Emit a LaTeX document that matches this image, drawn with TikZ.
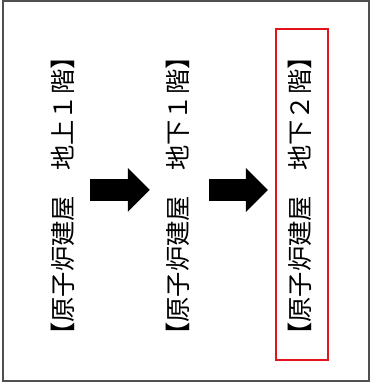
\documentclass[tikz,border=0pt]{standalone}
\usepackage{fontspec}
\usetikzlibrary{arrows.meta}
\newfontfamily\jpfont{Noto Sans CJK JP}
\definecolor{framegray}{RGB}{80,80,80}
\definecolor{markred}{RGB}{225,20,30}
\tikzstyle{floor}=[rotate=90, inner sep=0pt, text height=22.3pt, text depth=3pt, font=\jpfont\fontsize{25.3}{30}\selectfont]
\tikzstyle{bigarrow}=[line width=22pt, -{Triangle[length=22pt, width=44pt, line width=0pt]}]

\begin{document}
\begin{tikzpicture}[x=1pt, y=1pt]
    \useasboundingbox (0,0) rectangle (372,385);
    \draw[framegray, line width=1.5pt] (3,4) rectangle (369,384);
    % floors
    \node[floor] (f1) at (62.5,189) {【原子炉建屋　地上１階】};
    \node[floor] (b1) at (178,189) {【原子炉建屋　地下１階】};
    \node[floor] (b2) at (300,189) {【原子炉建屋　地下２階】};
    \draw[bigarrow] ([xshift=15pt, yshift=6pt]f1.south) -- ([xshift=-15.4pt, yshift=6pt]b1.north);
    \draw[bigarrow] ([xshift=18.4pt, yshift=6pt]b1.south) -- ([xshift=-19.4pt, yshift=6pt]b2.north);
    \draw[markred, line width=2.4pt] ([xshift=-24pt, yshift=-164pt]b2.center) rectangle ([xshift=28pt, yshift=167pt]b2.center);
\end{tikzpicture}
\end{document}
